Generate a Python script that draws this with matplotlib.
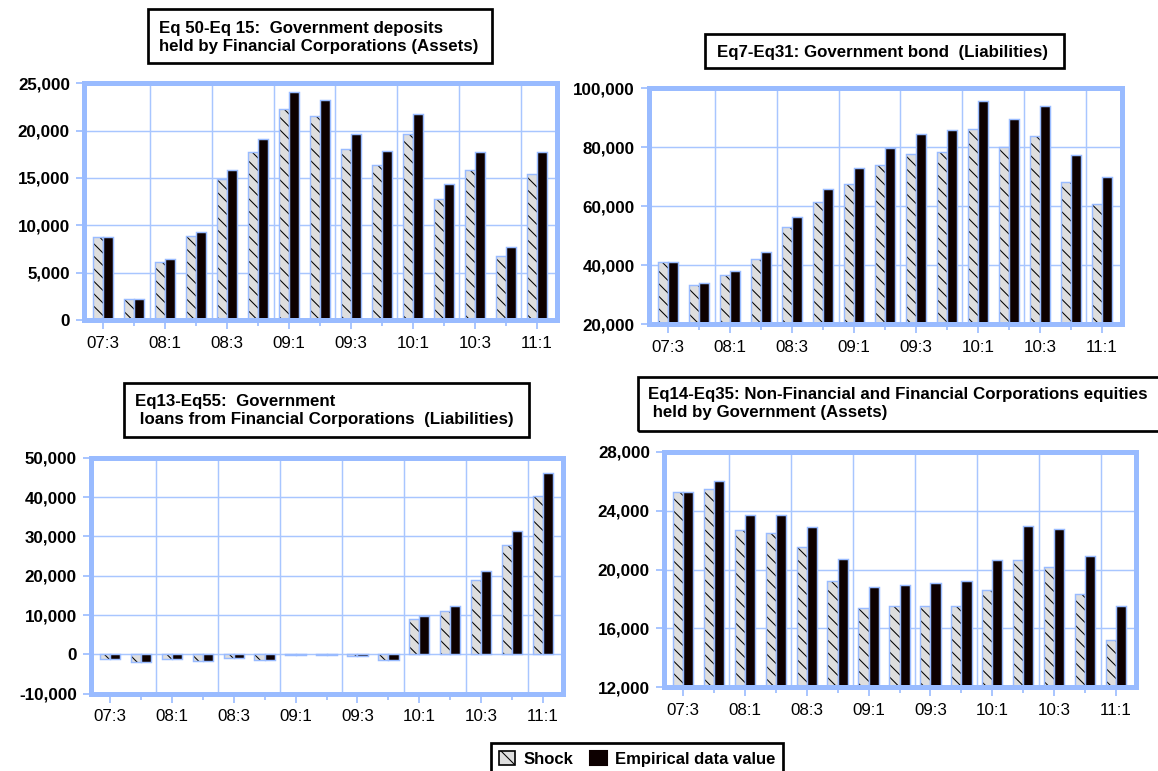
import numpy as np
import matplotlib
matplotlib.use('Agg')
import matplotlib.pyplot as plt
from matplotlib.patches import Rectangle, Patch

plt.rcParams['font.family'] = ['Liberation Sans', 'DejaVu Sans']
plt.rcParams['hatch.linewidth'] = 0.5

W, H = 1158, 771
DPI = 150

quarters = ['07:3', '07:4', '08:1', '08:2', '08:3', '08:4', '09:1', '09:2',
            '09:3', '09:4', '10:1', '10:2', '10:3', '10:4', '11:1']

# Eq 50-Eq 15: Government deposits held by Financial Corporations
dep_shock = [8750, 2200, 6150, 8870, 14900, 17700, 22250, 21500,
             18050, 16350, 19650, 12800, 15800, 6750, 15450]
dep_emp = [8750, 2200, 6400, 9250, 15800, 19100, 24050, 23250,
           19600, 17900, 21800, 14350, 17750, 7700, 17750]

# Eq7-Eq31: Government bond
bond_shock = [41000, 33200, 36600, 42300, 52900, 61400, 67500, 73900,
              77700, 78300, 86300, 80100, 83700, 68100, 60700]
bond_emp = [41000, 33900, 38200, 44500, 56300, 65900, 72900, 79900,
            84600, 86000, 95700, 89500, 94000, 77400, 69800]

# Eq13-Eq55: Government loans from Financial Corporations
loan_shock = [-1300, -2000, -1300, -1800, -900, -1450, -150, -100,
              -450, -1500, 9000, 11100, 18900, 27700, 40200]
loan_emp = [-1100, -1950, -1200, -1600, -850, -1350, -150, -100,
            -350, -1450, 9850, 12200, 21100, 31400, 46000]

# Eq14-Eq35: Non-Financial and Financial Corporations equities held by Government
eq_shock = [25250, 25500, 22700, 22500, 21550, 19250, 17400, 17500,
            17500, 17500, 18600, 20650, 20200, 18350, 15200]
eq_emp = [25250, 26000, 23700, 23700, 22900, 20700, 18850, 18950,
          19100, 19200, 20650, 23000, 22750, 20900, 17500]

FRAME = '#99BBFF'
GRID = '#A8C6FF'
GRAY = '#DEDEDE'
BLACK = '#0D0000'
HATCH = '\\\\\\\\'


def px_axes(fig, x0, x1, y0, y1):
    return fig.add_axes([x0 / W, 1 - y1 / H, (x1 - x0) / W, (y1 - y0) / H])


def title_box(fig, x0, y0, x1, y1, tx, ty, text):
    fig.add_artist(Rectangle((x0 / W, 1 - y1 / H), (x1 - x0) / W, (y1 - y0) / H,
                             transform=fig.transFigure, fill=False,
                             edgecolor='black', linewidth=1.3))
    fig.text(tx / W, 1 - ty / H, text, ha='left', va='center',
             fontsize=8.1, fontweight='bold', linespacing=1.25)


def draw_panel(ax, shock, emp, ylim, step):
    x = np.arange(len(quarters))
    w = 0.33
    ax.bar(x - w / 2, shock, w, color=GRAY, hatch=HATCH, edgecolor='black',
           linewidth=0, zorder=2)
    ax.bar(x - w / 2, shock, w, fill=False, edgecolor=FRAME, linewidth=0.7, zorder=2.1)
    ax.bar(x + w / 2, emp, w, color=BLACK, edgecolor=FRAME, linewidth=0.7, zorder=2.2)

    ax.set_xlim(-0.63, len(quarters) - 1 + 0.63)
    ax.set_ylim(*ylim)
    yt = np.arange(ylim[0], ylim[1] + 1, step)
    ax.set_yticks(yt)
    ax.set_yticklabels([f'{v:,.0f}' for v in yt], fontweight='bold')
    ax.set_xticks(x[::2])
    ax.set_xticklabels(quarters[::2])
    ax.set_xticks(x, minor=True)

    ax.yaxis.grid(True, color=GRID, linewidth=0.7, zorder=1)
    for k in range(2, len(quarters), 2):
        ax.axvline(k - 0.5, color=GRID, linewidth=0.7, zorder=1)
    ax.set_axisbelow(True)

    for s in ax.spines.values():
        s.set_color(FRAME)
        s.set_linewidth(2.4)
        s.set_zorder(3)
    ax.tick_params(axis='y', direction='out', length=4, width=0.8, color=FRAME,
                   labelsize=8.2, pad=2.5, labelcolor='black')
    ax.tick_params(axis='x', which='major', direction='out', length=4.5, width=0.8,
                   color=FRAME, labelsize=8.2, pad=3, labelcolor='black')
    ax.tick_params(axis='x', which='minor', direction='out', length=3, width=0.8,
                   color=FRAME)


fig = plt.figure(figsize=(W / DPI, H / DPI), dpi=DPI)

ax1 = px_axes(fig, 83.5, 556.5, 83.3, 320)
draw_panel(ax1, dep_shock, dep_emp, (0, 25000), 5000)
title_box(fig, 148, 9, 492, 63, 159, 37,
          'Eq 50-Eq 15:  Government deposits\nheld by Financial Corporations (Assets)')

ax2 = px_axes(fig, 648.5, 1121.5, 88.3, 324.3)
draw_panel(ax2, bond_shock, bond_emp, (20000, 100000), 20000)
title_box(fig, 705, 34, 1064, 68, 717, 52,
          'Eq7-Eq31: Government bond  (Liabilities)')

ax3 = px_axes(fig, 90.5, 562.5, 457.7, 693.7)
draw_panel(ax3, loan_shock, loan_emp, (-10000, 50000), 10000)
title_box(fig, 124, 383, 529, 437, 135, 410.5,
          'Eq13-Eq55:  Government\n loans from Financial Corporations  (Liabilities)')

ax4 = px_axes(fig, 663.5, 1135.5, 452, 687.3)
draw_panel(ax4, eq_shock, eq_emp, (12000, 28000), 4000)
title_box(fig, 638, 377, 1166, 431, 648, 404,
          'Eq14-Eq35: Non-Financial and Financial Corporations equities\n held by Government (Assets)')

handles = [Patch(facecolor=GRAY, hatch='\\', edgecolor='black', linewidth=0.8),
           Patch(facecolor=BLACK, edgecolor=BLACK)]
leg = fig.legend(handles, ['Shock', 'Empirical data value'], loc='upper left',
                 bbox_to_anchor=(491 / W, 1 - 743 / H), ncol=2, frameon=True,
                 fancybox=False, edgecolor='black', framealpha=1,
                 handlelength=1.0, handleheight=1.0, handletextpad=0.5,
                 columnspacing=1.0, borderpad=0.45, borderaxespad=0,
                 prop={'weight': 'bold', 'size': 8.0})
leg.get_frame().set_linewidth(1.3)

fig.savefig('out.png', dpi=DPI)
